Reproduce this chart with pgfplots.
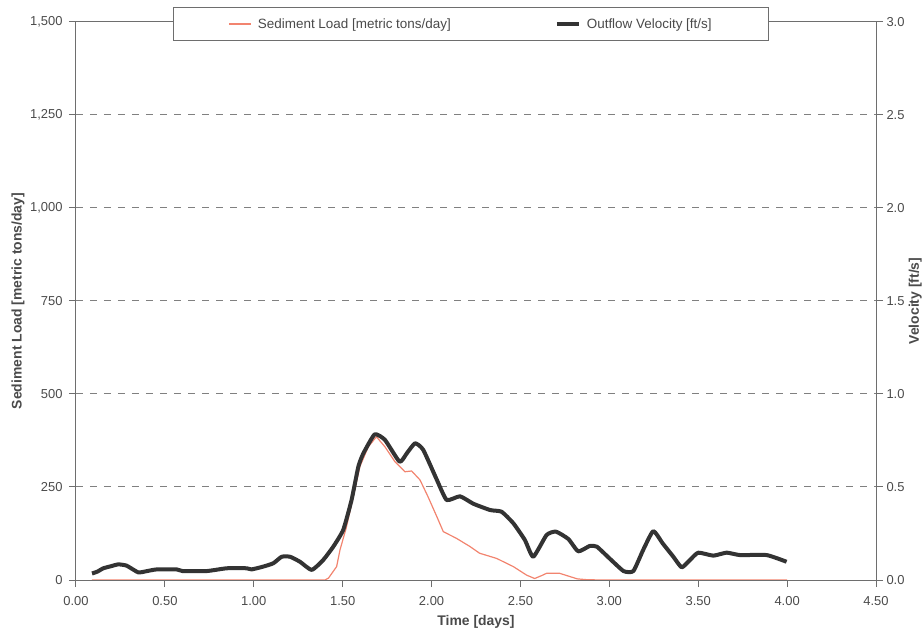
\documentclass[border=0pt]{standalone}
\usepackage{fontspec}
\setmainfont{Liberation Sans}
\usepackage{pgfplots}
\pgfplotsset{compat=1.18}
\definecolor{sedred}{HTML}{F2846F}
\definecolor{velblack}{HTML}{333333}
\definecolor{axgray}{HTML}{6E6E6E}
\definecolor{gridgray}{HTML}{808080}
\definecolor{txtgray}{HTML}{4A4A4A}
\begin{document}
\begin{tikzpicture}
\path[use as bounding box] (-76bp,-57bp) rectangle (848bp,580bp);
\pgfplotsset{
  every axis/.append style={
    scale only axis, width=800bp, height=558bp,
    xmin=0, xmax=4.5,
    axis line style={axgray, line width=1bp},
    tick style={axgray, line width=1bp},
    tick align=outside,
    major tick length=7bp,
    ticklabel style={font=\fontsize{13}{15}\selectfont, text=txtgray},
    label style={font=\bfseries\fontsize{14}{16}\selectfont, text=txtgray},
    /pgf/number format/assume math mode=true,
  }
}
\begin{axis}[
  ymin=0, ymax=1500,
  ytick={0,250,...,1500},
  xtick={0,0.5,...,4.5},
  xtick pos=bottom, ytick pos=left,
  ymajorgrids,
  grid style={gridgray, line width=1bp, dash pattern=on 7bp off 7bp},
  xticklabel style={yshift=-6bp, /pgf/number format/.cd, fixed, fixed zerofill, precision=2},
  yticklabel style={xshift=-3bp, /pgf/number format/.cd, fixed, 1000 sep={,}},
  xlabel={Time [days]},
  ylabel={Sediment Load [metric tons/day]},
  xlabel style={at={(axis description cs:0.5,-0.0753)}, anchor=center},
  ylabel style={at={(axis description cs:-0.0725,0.5)}, anchor=center},
]
\addplot[sedred, line width=1.2bp, line join=round] table {
x y
0.09 0
1.40 0
1.42 5
1.466 36
1.485 81
1.52 140
1.56 225
1.597 305
1.644 358
1.69 385
1.738 358
1.794 318
1.85 291
1.888 293
1.935 269
1.98 224
2.03 170
2.066 130
2.14 112
2.216 90
2.27 72
2.366 58
2.46 36
2.535 13
2.58 4
2.62 12
2.647 18
2.72 18
2.78 9
2.82 3
2.87 1
2.95 0
4.00 0
};
\end{axis}
\begin{axis}[
  ymin=0, ymax=3,
  axis y line*=right, axis x line=none,
  ytick={0,0.5,...,3},
  yticklabel style={/pgf/number format/.cd, fixed, fixed zerofill, precision=1},
  ylabel={Velocity [ft/s]},
  ylabel style={at={(axis description cs:1.049,0.5)}, anchor=center},
  legend columns=2,
  legend image code/.code={\draw[#1] (0bp,0bp) -- (22bp,0bp);},
  legend style={at={(axis description cs:0.494,1.027)}, anchor=north,
    draw=axgray, line width=1bp, fill=white,
    font=\fontsize{13.5}{15}\selectfont, text=txtgray,
    inner xsep=55bp, inner ysep=9bp,
    /tikz/every odd column/.append style={column sep=4bp},
    /tikz/every even column/.append style={column sep=102bp}},
]
\addlegendimage{sedred, line width=1.2bp}
\addlegendentry{Sediment Load [metric tons/day]}
\addplot[velblack, line width=4bp, line join=round, smooth, tension=0.3] table {
x y
0.09 0.035
0.12 0.045
0.154 0.063
0.20 0.075
0.238 0.084
0.285 0.077
0.35 0.041
0.40 0.048
0.454 0.057
0.566 0.057
0.60 0.048
0.735 0.048
0.848 0.063
0.96 0.063
0.988 0.057
1.053 0.072
1.11 0.09
1.157 0.125
1.204 0.125
1.26 0.098
1.326 0.054
1.39 0.107
1.447 0.179
1.503 0.269
1.55 0.43
1.588 0.609
1.616 0.68
1.68 0.783
1.738 0.753
1.82 0.636
1.86 0.68
1.907 0.735
1.953 0.70
2.03 0.538
2.085 0.43
2.16 0.45
2.235 0.41
2.33 0.376
2.394 0.367
2.46 0.305
2.525 0.215
2.572 0.125
2.647 0.242
2.70 0.26
2.77 0.22
2.825 0.154
2.89 0.183
2.93 0.179
3.00 0.117
3.08 0.048
3.135 0.048
3.19 0.161
3.247 0.263
3.30 0.197
3.36 0.125
3.407 0.068
3.453 0.107
3.50 0.147
3.585 0.131
3.66 0.147
3.735 0.134
3.885 0.134
3.997 0.098
};
\addlegendentry{Outflow Velocity [ft/s]}
\end{axis}
\end{tikzpicture}
\end{document}
